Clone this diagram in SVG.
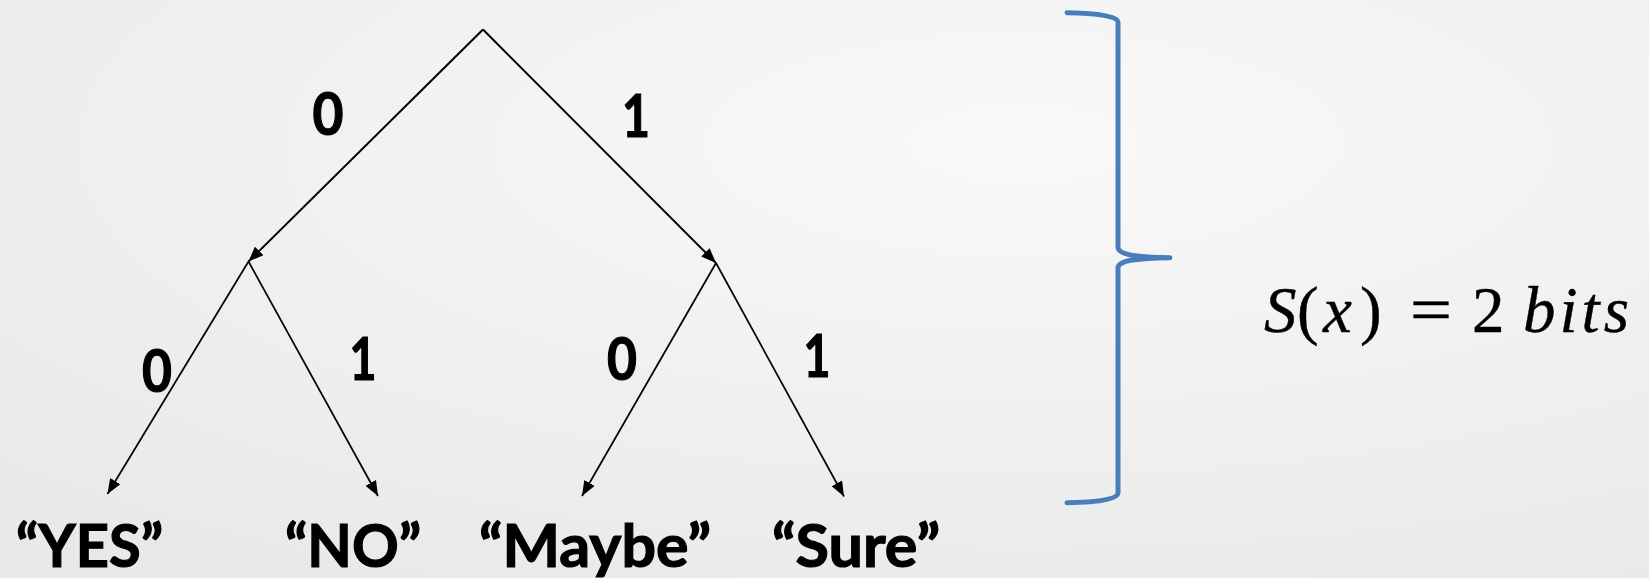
<svg xmlns="http://www.w3.org/2000/svg" width="1649" height="578" viewBox="0 0 1649 578">
<defs>
<radialGradient id="bg" cx="0.62" cy="0.25" r="0.85">
<stop offset="0" stop-color="#f9f9f9"/>
<stop offset="1" stop-color="#e9e9e9"/>
</radialGradient>
<marker id="arr" markerUnits="userSpaceOnUse" markerWidth="16" markerHeight="12" refX="15" refY="6" orient="auto">
<path d="M0,0 L15,6 L0,12 z" fill="#000"/>
</marker>
<style>
.edge{stroke:#000;fill:none;marker-end:url(#arr)}
.top{stroke-width:2}
.low{stroke-width:1.7}
.lbl{font-family:Lato,"Liberation Sans",sans-serif;font-weight:bold;font-size:59px;fill:#000;stroke:#000;stroke-width:1.2;text-anchor:middle}
.leaf{font-family:Lato,"Liberation Sans",sans-serif;font-weight:bold;font-size:60px;fill:#000;stroke:#000;stroke-width:1.2;text-anchor:middle}
.math{font-family:"Liberation Serif","Times New Roman",serif;font-size:65px;fill:#000;stroke:#000;stroke-width:0.4}
.it{font-style:italic}
.brace{stroke:#4a7ebb;stroke-width:5;fill:none;stroke-linecap:round;stroke-linejoin:round}
</style>
</defs>
<rect width="1649" height="578" fill="url(#bg)"/>
<g id="connectors">
<line class="edge top" x1="483" y1="29.5" x2="248.5" y2="261.5"/>
<line class="edge top" x1="483" y1="29.5" x2="716" y2="263"/>
<line class="edge low" x1="248.5" y1="261.5" x2="107.5" y2="494"/>
<line class="edge low" x1="248.5" y1="261.5" x2="378" y2="496"/>
<line class="edge low" x1="716" y1="263" x2="582" y2="496"/>
<line class="edge low" x1="716" y1="263" x2="844" y2="496.5"/>
<text class="lbl" x="328" y="135" textLength="31" lengthAdjust="spacingAndGlyphs">0</text>
<text class="lbl" x="636" y="137" textLength="28" lengthAdjust="spacingAndGlyphs">1</text>
<text class="lbl" x="157" y="391.5" textLength="30" lengthAdjust="spacingAndGlyphs">0</text>
<text class="lbl" x="363" y="380" textLength="27" lengthAdjust="spacingAndGlyphs">1</text>
<text class="lbl" x="622" y="380" textLength="30" lengthAdjust="spacingAndGlyphs">0</text>
<text class="lbl" x="817" y="376.5" textLength="27" lengthAdjust="spacingAndGlyphs">1</text>
</g>
<g id="node-yes"><text class="leaf" x="89.5" y="567" textLength="147" lengthAdjust="spacingAndGlyphs">“YES”</text></g>
<g id="node-no"><text class="leaf" x="353" y="567" textLength="136" lengthAdjust="spacingAndGlyphs">“NO”</text></g>
<g id="node-maybe"><text class="leaf" x="595" y="567" textLength="232" lengthAdjust="spacingAndGlyphs">“Maybe”</text></g>
<g id="node-sure"><text class="leaf" x="856" y="567" textLength="168" lengthAdjust="spacingAndGlyphs">“Sure”</text></g>
<g id="brace">
<path class="brace" d="M1067,12.7 C1097,13.2 1118,16 1118,22 L1118,247 C1118,254 1132,257.3 1170,257.7 C1132,258.2 1118,261 1118,268 L1118,493 C1118,499.5 1097,502.3 1067,502.7"/>
</g>
<g id="formula">
<text class="math" y="332"><tspan x="1264" class="it">S</tspan><tspan x="1297">(</tspan><tspan x="1323" class="it">x</tspan><tspan x="1360">)</tspan><tspan x="1410" textLength="42" lengthAdjust="spacingAndGlyphs">=</tspan><tspan x="1472">2</tspan><tspan x="1523" class="it" textLength="106" lengthAdjust="spacing">bits</tspan></text>
</g>
</svg>
